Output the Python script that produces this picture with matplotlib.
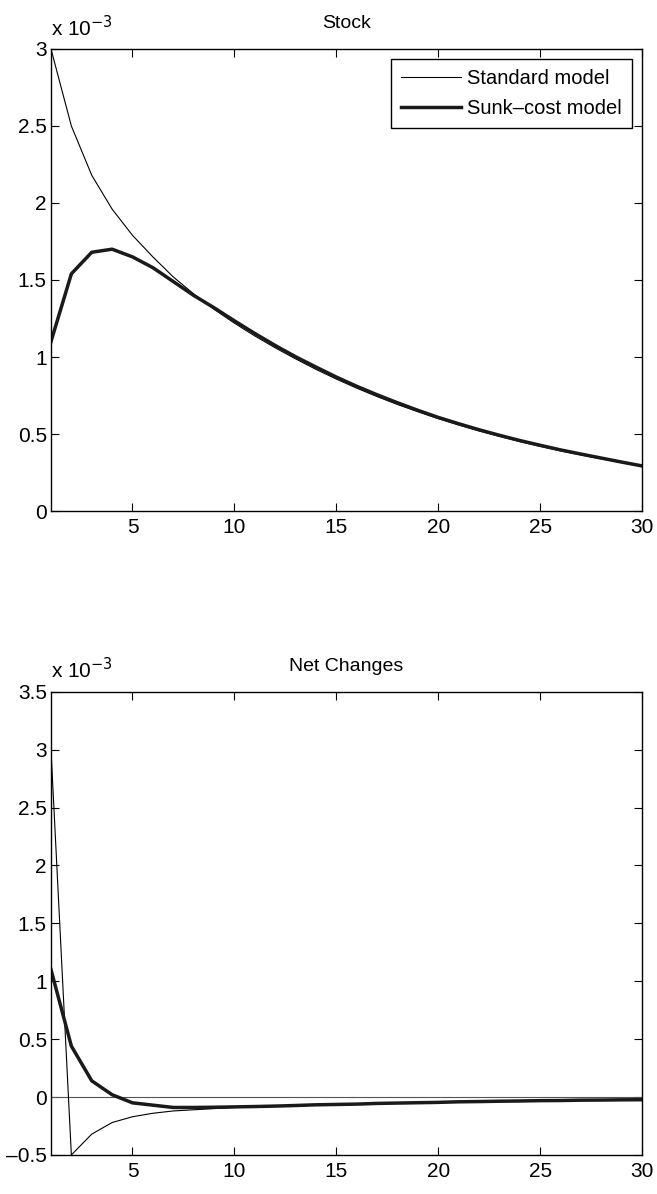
import numpy as np
import matplotlib.pyplot as plt

plt.rcParams["font.family"] = ["Liberation Sans", "DejaVu Sans"]

# horizon (periods)
periods = list(range(1, 31))

# stock, in units of 1e-3
stock_standard = [3.00, 2.50, 2.18, 1.96, 1.79, 1.65, 1.52, 1.41, 1.31, 1.22,
                  1.137, 1.06, 0.988, 0.92, 0.857, 0.798, 0.743, 0.692, 0.645, 0.60,
                  0.559, 0.52, 0.485, 0.451, 0.42, 0.391, 0.364, 0.339, 0.315, 0.29]
stock_sunk = [1.10, 1.54, 1.68, 1.70, 1.65, 1.58, 1.49, 1.40, 1.32, 1.235,
              1.153, 1.075, 1.002, 0.935, 0.87, 0.81, 0.755, 0.703, 0.654, 0.608,
              0.567, 0.528, 0.492, 0.458, 0.427, 0.397, 0.37, 0.344, 0.318, 0.293]

# net changes, in units of 1e-3
net_standard = [3.00, -0.50, -0.32, -0.22, -0.17, -0.14, -0.12, -0.11, -0.10, -0.09,
                -0.083, -0.077, -0.072, -0.068, -0.063, -0.059, -0.055, -0.051, -0.047, -0.045,
                -0.041, -0.039, -0.035, -0.034, -0.031, -0.029, -0.027, -0.025, -0.024, -0.022]
net_sunk = [1.10, 0.44, 0.14, 0.02, -0.05, -0.07, -0.09, -0.09, -0.088, -0.085,
            -0.082, -0.078, -0.073, -0.067, -0.064, -0.061, -0.055, -0.052, -0.049, -0.046,
            -0.041, -0.039, -0.036, -0.034, -0.031, -0.03, -0.027, -0.026, -0.024, -0.023]

labels = ["Standard model", "Sunk\u2013cost model"]


def style_axes(ax, title, yticks):
    ax.set_xlim(1, 30)
    ax.set_ylim(yticks[0], yticks[-1])
    ax.set_xticks([5, 10, 15, 20, 25, 30])
    ax.set_yticks(yticks)
    ax.set_yticklabels(["%g" % t if t >= 0 else "\u2013%g" % -t for t in yticks])
    ax.tick_params(direction="in", length=6, width=0.8, labelsize=15,
                   top=True, right=True)
    ax.tick_params(axis="x", pad=5)
    ax.tick_params(axis="y", pad=3)
    for s in ax.spines.values():
        s.set_linewidth(1.0)
    ax.set_title(title, fontsize=14, pad=15)
    ax.text(0.0, 1.02, r"x 10$^{-3}$", transform=ax.transAxes,
            fontsize=15, ha="left", va="bottom")


fig = plt.figure(figsize=(6.57, 11.94), dpi=100)

ax1 = fig.add_axes([0.0776, 0.572, 0.8995, 0.387])
ax1.plot(periods, stock_standard, color="black", lw=0.8, label=labels[0])
ax1.plot(periods, stock_sunk, color="#1a1a1a", lw=2.5, label=labels[1])
style_axes(ax1, "Stock", [0, 0.5, 1, 1.5, 2, 2.5, 3])
leg = ax1.legend(loc="upper right", fontsize=14.5, fancybox=False, framealpha=1,
                 edgecolor="black", handlelength=3.0, borderaxespad=0.5,
                 handletextpad=0.3, labelspacing=0.55, borderpad=0.5)
leg.get_frame().set_linewidth(1.0)

ax2 = fig.add_axes([0.0776, 0.0327, 0.8995, 0.388])
ax2.axhline(0, color="#555555", lw=0.8)
ax2.plot(periods, net_standard, color="black", lw=0.8)
ax2.plot(periods, net_sunk, color="#1a1a1a", lw=2.5)
style_axes(ax2, "Net Changes", [-0.5, 0, 0.5, 1, 1.5, 2, 2.5, 3, 3.5])

fig.savefig("out.png", dpi=100)
